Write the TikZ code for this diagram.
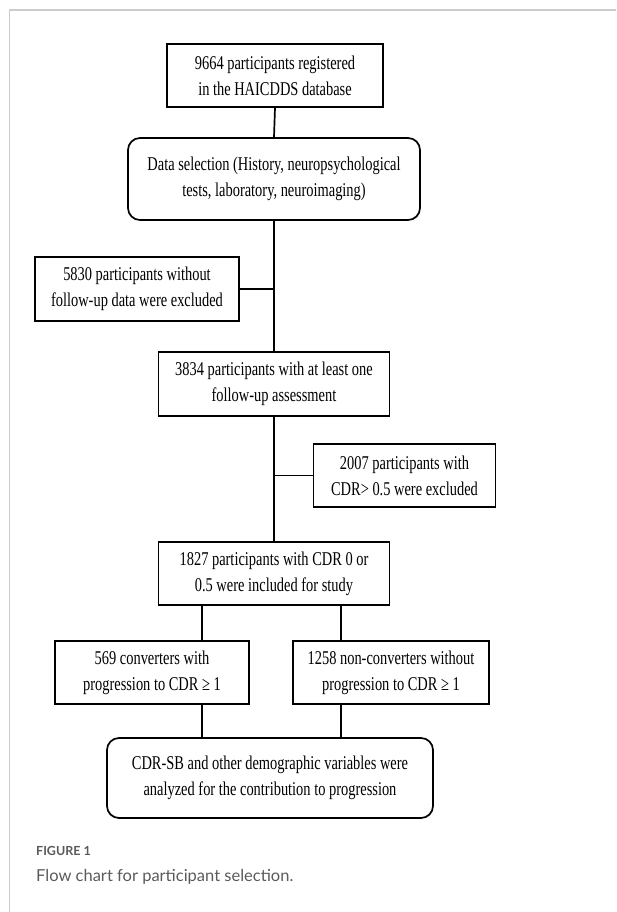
\documentclass[tikz,border=0pt]{standalone}
\usepackage{fontspec}
\newfontfamily\boxfont{Liberation Serif}[FakeStretch=0.74]
\newfontfamily\capfont{Lato}
\usetikzlibrary{calc}
\definecolor{framegray}{HTML}{CCCCCC}
\definecolor{capgray}{HTML}{5A5A5A}
\tikzset{
  box/.style={draw, line width=1.7pt, align=center, inner sep=0pt,
    font=\boxfont\fontsize{19.5}{26}\selectfont},
  roundbox/.style={box, rounded corners=12pt},
  link/.style={line width=1.7pt}
}
\begin{document}
\begin{tikzpicture}[x=1pt,y=-1pt]
\useasboundingbox (0,0) rectangle (616,912);
\draw[framegray,line width=1.5pt] (9.5,912) -- (9.5,10) -- (616,10);
\node[box,minimum width=216pt,minimum height=63pt] (reg) at (275,75.5) {9664 participants registered\\in the HAICDDS database};
\node[roundbox,minimum width=292pt,minimum height=82pt] (sel) at (274,179) {Data selection (History, neuropsychological\\tests, laboratory, neuroimaging)};
\node[box,minimum width=204pt,minimum height=64pt] (nofu) at (137,289) {5830 participants without\\follow-up data were excluded};
\node[box,minimum width=231pt,minimum height=64pt] (fu) at (274,384) {3834 participants with at least one\\follow-up assessment};
\node[box,minimum width=182pt,minimum height=63pt] (cdrx) at (404.5,475.5) {2007 participants with\\CDR> 0.5 were excluded};
\node[box,minimum width=231pt,minimum height=63pt] (incl) at (274,573.5) {1827 participants with CDR 0 or\\0.5 were included for study};
\node[box,minimum width=194pt,minimum height=63pt] (conv) at (152,672.5) {569 converters with\\progression to CDR ≥ 1};
\node[box,minimum width=196pt,minimum height=63pt] (nonc) at (391,672.5) {1258 non-converters without\\progression to CDR ≥ 1};
\node[roundbox,minimum width=326pt,minimum height=80pt] (anal) at (270,778) {CDR-SB and other demographic variables were\\analyzed for the contribution to progression};
\coordinate (lft) at (202,0);
\coordinate (rgt) at (341,0);
\draw[link] (reg.south) -- (sel.north);
\draw[link] (sel.south) -- (fu.north);
\draw[link] (nofu.east) -- (nofu.east -| fu.north);
\draw[link] (fu.south) -- (incl.north);
\draw[link] (cdrx.west) -- (cdrx.west -| fu.south);
\draw[link] (incl.south -| lft) -- (conv.north -| lft);
\draw[link] (incl.south -| rgt) -- (nonc.north -| rgt);
\draw[link] (conv.south -| lft) -- (anal.north -| lft);
\draw[link] (nonc.south -| rgt) -- (anal.north -| rgt);
\node[anchor=base west,font=\capfont\bfseries\fontsize{12.5}{15}\selectfont,text=capgray,inner sep=0pt] (fig) at (36,855) {FIGURE 1};
\node[anchor=base west,font=\capfont\fontsize{16.5}{20}\selectfont,text=capgray,inner sep=0pt] (cap) at (36,881) {Flow chart for participant selection.};
\end{tikzpicture}
\end{document}
